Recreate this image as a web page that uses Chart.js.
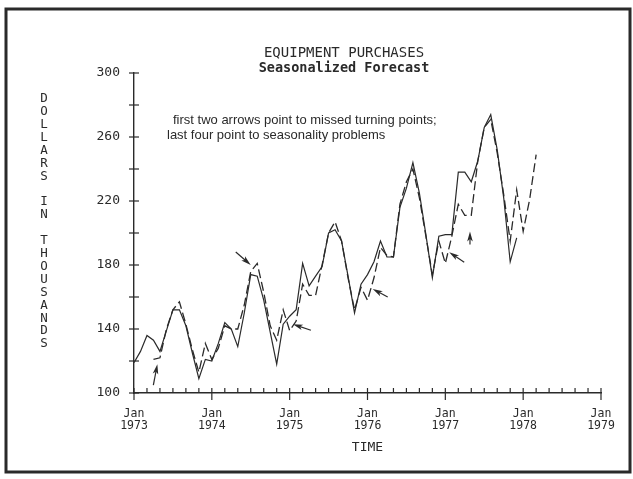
<!DOCTYPE html>
<html lang="en">
<head>
  <meta charset="UTF-8">
  <title>Equipment Purchases - Seasonalized Forecast</title>
  <script src="https://cdn.jsdelivr.net/npm/chart.js"></script>
  <style>
    html, body { margin: 0; padding: 0; background: #fff; }
  </style>
</head>
<body>
  <canvas id="purchasesChart" width="633" height="479"></canvas>

  <script>
    // months counted from Jan 1973 (0) to Jan 1979 (72)
    const firstYear = 1973;
    const yearCount = 6;

    // actual purchases, Jan 1973 .. Dec 1977 (thousands of dollars)
    const actual = [
      119, 126, 136, 133, 126, 139, 152, 152, 142, 125, 109, 121,  // 1973
      120, 131, 144, 140, 129, 150, 174, 173, 158, 138, 118, 143,  // 1974
      148, 152, 181, 167, 173, 179, 200, 202, 195, 173, 150, 168,  // 1975
      174, 182, 195, 185, 185, 216, 228, 244, 225, 199, 172, 198,  // 1976
      199, 199, 238, 238, 232, 245, 266, 274, 252, 222, 182, 197   // 1977
    ];

    // seasonalized forecast, Apr 1973 .. Mar 1978
    const forecastStart = 3;
    const forecast = [
      121, 122, 140, 152, 157, 143, 127, 113, 131,                 // Apr-Dec 1973
      121, 128, 142, 140, 140, 155, 176, 181, 163, 142, 133, 152,  // 1974
      139, 145, 168, 161, 161, 180, 200, 207, 195, 172, 152, 166,  // 1975
      158, 172, 191, 186, 185, 218, 232, 240, 222, 198, 174, 195,  // 1976
      181, 198, 218, 211, 211, 245, 266, 271, 250, 224, 195, 227,  // 1977
      201, 221, 249                                                // Jan-Mar 1978
    ];

    // arrow tips as [month, value]
    const arrowTips = [[3.6, 118], [18.0, 180], [24.5, 143], [36.8, 165], [48.6, 188], [51.8, 201]];

    const titleText = 'EQUIPMENT PURCHASES';
    const subtitleText = 'Seasonalized Forecast';
    const noteLines = ['first two arrows point to missed turning points;', 'last four point to seasonality problems'];
    const yTitle = 'DOLLARS IN THOUSANDS';
    const xTitle = 'TIME';

    const ink = '#2a2a2a';
    const mono = '"DejaVu Sans Mono", monospace';

    const actualPoints = actual.map((v, i) => ({ x: i, y: v }));
    const forecastPoints = forecast.map((v, i) => ({ x: i + forecastStart, y: v }));

    function drawArrow(ctx, x0, y0, x1, y1) {
      const a = Math.atan2(y1 - y0, x1 - x0);
      const c = Math.cos(a), s = Math.sin(a);
      const len = 10, half = 2.8;
      ctx.beginPath();
      ctx.moveTo(x0, y0);
      ctx.lineTo(x1 - c * len * 0.6, y1 - s * len * 0.6);
      ctx.stroke();
      ctx.beginPath();
      ctx.moveTo(x1, y1);
      ctx.lineTo(x1 - c * len + s * half, y1 - s * len - c * half);
      ctx.lineTo(x1 - c * len * 0.75, y1 - s * len * 0.75);
      ctx.lineTo(x1 - c * len - s * half, y1 - s * len + c * half);
      ctx.closePath();
      ctx.fill();
    }

    const plotterPlugin = {
      id: 'plotter',
      beforeDraw(chart) {
        const { ctx, width, height } = chart;
        ctx.save();
        ctx.fillStyle = '#fff';
        ctx.fillRect(0, 0, width, height);
        ctx.restore();
      },
      afterDraw(chart) {
        const { ctx, chartArea, scales } = chart;
        const x = scales.x, y = scales.y;
        ctx.save();
        ctx.strokeStyle = ink;
        ctx.fillStyle = ink;
        ctx.lineWidth = 1.2;

        // x ticks every two months, years cross the axis
        for (let m = 0; m <= yearCount * 12; m += 2) {
          const px = x.getPixelForValue(m);
          ctx.beginPath();
          ctx.moveTo(px, chartArea.bottom - 5);
          ctx.lineTo(px, chartArea.bottom + (m % 12 === 0 ? 7 : 0));
          ctx.stroke();
        }
        // y ticks every 20
        for (let v = y.min; v <= y.max; v += 20) {
          const py = y.getPixelForValue(v);
          ctx.beginPath();
          ctx.moveTo(chartArea.left - 5, py);
          ctx.lineTo(chartArea.left + 5, py);
          ctx.stroke();
        }

        // arrows
        const tails = [[-4, 21], [-15, -13], [18, 6], [15, 8], [15, 10], [0, 13]];
        arrowTips.forEach(([m, v], i) => {
          const tx = x.getPixelForValue(m), ty = y.getPixelForValue(v);
          drawArrow(ctx, tx + tails[i][0], ty + tails[i][1], tx, ty);
        });

        // titles
        ctx.textAlign = 'center';
        ctx.textBaseline = 'middle';
        ctx.font = '14px ' + mono;
        ctx.fillText(titleText, 344, 53);
        ctx.font = 'bold 13.5px ' + mono;
        ctx.fillText(subtitleText, 344, 68);

        // stacked y title
        ctx.font = '12.5px ' + mono;
        [...yTitle].forEach((ch, i) => {
          if (ch !== ' ') ctx.fillText(ch, 44, 99 + i * 12.9);
        });

        // note
        ctx.textAlign = 'left';
        ctx.textBaseline = 'alphabetic';
        ctx.font = '13px "Liberation Sans", Arial, sans-serif';
        ctx.fillText(noteLines[0], 173, 124);
        ctx.fillText(noteLines[1], 167, 139);

        // frame
        ctx.lineWidth = 3;
        ctx.strokeRect(6, 9, 624, 463);
        ctx.restore();
      }
    };

    const ctxPurchases = document.getElementById('purchasesChart').getContext('2d');
    const purchasesChart = new Chart(ctxPurchases, {
      type: 'line',
      data: {
        datasets: [{
          label: 'Actual',
          data: actualPoints,
          borderColor: ink,
          borderWidth: 1.2,
          pointRadius: 0,
          tension: 0
        }, {
          label: 'Forecast',
          data: forecastPoints,
          borderColor: ink,
          borderWidth: 1.3,
          borderDash: [9, 4],
          pointRadius: 0,
          tension: 0
        }]
      },
      options: {
        responsive: false,
        animation: false,
        layout: { padding: { top: 73, right: 32, bottom: 0, left: 0 } },
        plugins: {
          legend: { display: false },
          tooltip: { enabled: false }
        },
        scales: {
          x: {
            type: 'linear',
            min: 0,
            max: yearCount * 12,
            afterFit(scale) { scale.height = 86; },
            grid: { display: false },
            border: { color: ink, width: 1.4 },
            ticks: {
              stepSize: 2,
              autoSkip: false,
              maxRotation: 0,
              padding: 7,
              color: ink,
              font: { family: mono, size: 11.5, lineHeight: 1.05 },
              callback: v => v % 12 === 0 ? ['Jan', String(firstYear + v / 12)] : ''
            },
            title: {
              display: true,
              text: xTitle,
              color: ink,
              font: { family: mono, size: 13 },
              padding: { top: 0, bottom: 24 }
            }
          },
          y: {
            min: 100,
            max: 300,
            afterFit(scale) { scale.width = 134; },
            grid: { display: false },
            border: { color: ink, width: 1.4 },
            ticks: {
              stepSize: 20,
              padding: 6,
              color: ink,
              font: { family: mono, size: 13 },
              callback: v => (v - 100) % 40 === 0 ? String(v) : ''
            }
          }
        }
      },
      plugins: [plotterPlugin]
    });
  </script>
</body>
</html>
